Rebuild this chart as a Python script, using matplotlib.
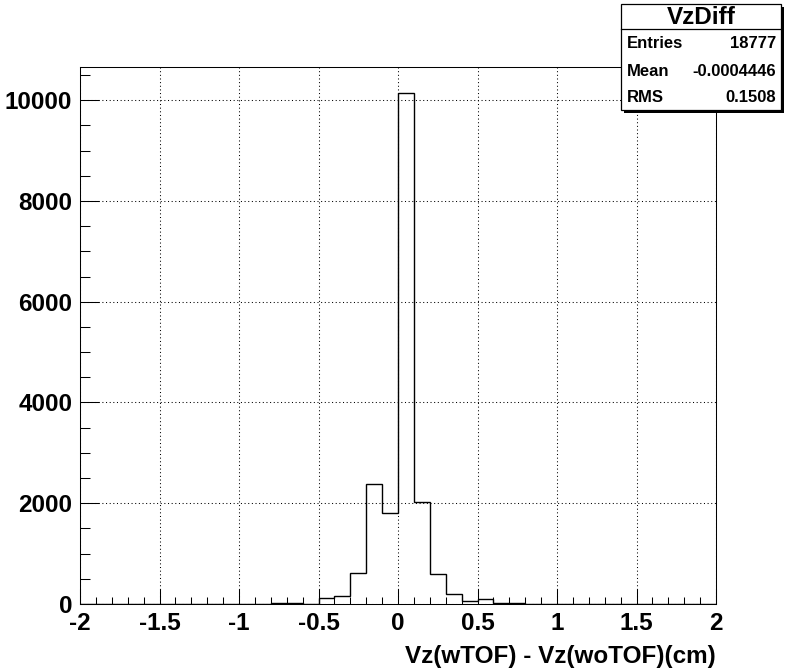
import matplotlib
matplotlib.use("Agg")
import matplotlib.pyplot as plt
import numpy as np
from matplotlib.patches import Rectangle
from matplotlib.lines import Line2D
from matplotlib.ticker import MultipleLocator

plt.rcParams['font.family'] = ['Liberation Sans', 'DejaVu Sans']
plt.rcParams['font.weight'] = 'bold'

# Data
bin_edges = np.round(np.arange(-2.0, 2.0001, 0.1), 2)
counts = [0, 0, 0, 0, 0, 0, 0, 0, 0, 0,
          0, 0, 15, 15, 0, 115, 160, 610, 2380, 1805,
          10151, 2020, 600, 190, 52, 93, 15, 15, 0, 0,
          0, 0, 0, 0, 0, 0, 0, 0, 0, 0]
stat_title = "VzDiff"
stat_names = ["Entries", "Mean", "RMS"]
stat_values = ["18777", "-0.0004446", "0.1508"]
x_label = "Vz(wTOF) - Vz(woTOF)(cm)"

W, H = 796, 672
fig = plt.figure(figsize=(W / 100, H / 100), dpi=100)
fig.patch.set_facecolor('white')
ax = fig.add_axes([80 / W, 1 - 604 / H, (716 - 80) / W, (604 - 67) / H])

ax.stairs(counts, bin_edges, color='black', linewidth=1.0, baseline=0)

ax.set_xlim(-2, 2)
ax.set_ylim(0, 1.05 * max(counts))

ax.xaxis.set_major_locator(MultipleLocator(0.5))
ax.xaxis.set_minor_locator(MultipleLocator(0.1))
ax.yaxis.set_major_locator(MultipleLocator(2000))
ax.yaxis.set_minor_locator(MultipleLocator(500))

def fmt(v, pos):
    if abs(v - round(v)) < 1e-9:
        return "%d" % round(v)
    return ("%g" % v)
ax.xaxis.set_major_formatter(plt.FuncFormatter(fmt))
ax.yaxis.set_major_formatter(plt.FuncFormatter(lambda v, p: "%d" % round(v)))

ax.tick_params(axis='both', which='both', direction='in', top=False, right=False,
               width=0.75, colors='black', labelsize=17.5)
ax.tick_params(axis='x', which='major', length=10.8, pad=5.5)
ax.tick_params(axis='x', which='minor', length=5.3)
ax.tick_params(axis='y', which='major', length=13.7, pad=5.5)
ax.tick_params(axis='y', which='minor', length=7.2)
for lab in ax.get_xticklabels() + ax.get_yticklabels():
    lab.set_fontweight('bold')

ax.grid(True, which='major', color='black', linestyle=(0, (1, 2.5)), linewidth=0.75)
ax.set_axisbelow(False)
for s in ax.spines.values():
    s.set_linewidth(0.75)

fig.text(716 / W, 1 - 663 / H, x_label, ha='right', va='baseline',
         fontsize=17.5, fontweight='bold')

# Stats box
bx0, bx1 = 621 / W, 781 / W
by1, by0 = 1 - 4 / H, 1 - 110 / H
sx, sy = 2.5 / W, 2.5 / H
fig.patches.append(Rectangle((bx0 + sx, by0 - sy), bx1 - bx0, by1 - by0,
                             transform=fig.transFigure, facecolor='black',
                             edgecolor='black', linewidth=0, zorder=5))
fig.patches.append(Rectangle((bx0, by0), bx1 - bx0, by1 - by0,
                             transform=fig.transFigure, facecolor='white',
                             edgecolor='black', linewidth=0.9, zorder=6))
fig.lines.append(Line2D([bx0, bx1], [1 - 29 / H, 1 - 29 / H], transform=fig.transFigure,
                        color='black', linewidth=0.9, zorder=7))
fig.text((bx0 + bx1) / 2, 1 - 17 / H, stat_title, ha='center', va='center',
         fontsize=17.5, fontweight='bold', zorder=8)
row_y = [44, 71, 97]
for name, val, yy in zip(stat_names, stat_values, row_y):
    fig.text(627 / W, 1 - yy / H, name, ha='left', va='center',
             fontsize=12, fontweight='bold', zorder=8)
    fig.text(776 / W, 1 - yy / H, val, ha='right', va='center',
             fontsize=12, fontweight='bold', zorder=8)

fig.savefig("out.png", dpi=100, facecolor='white')
